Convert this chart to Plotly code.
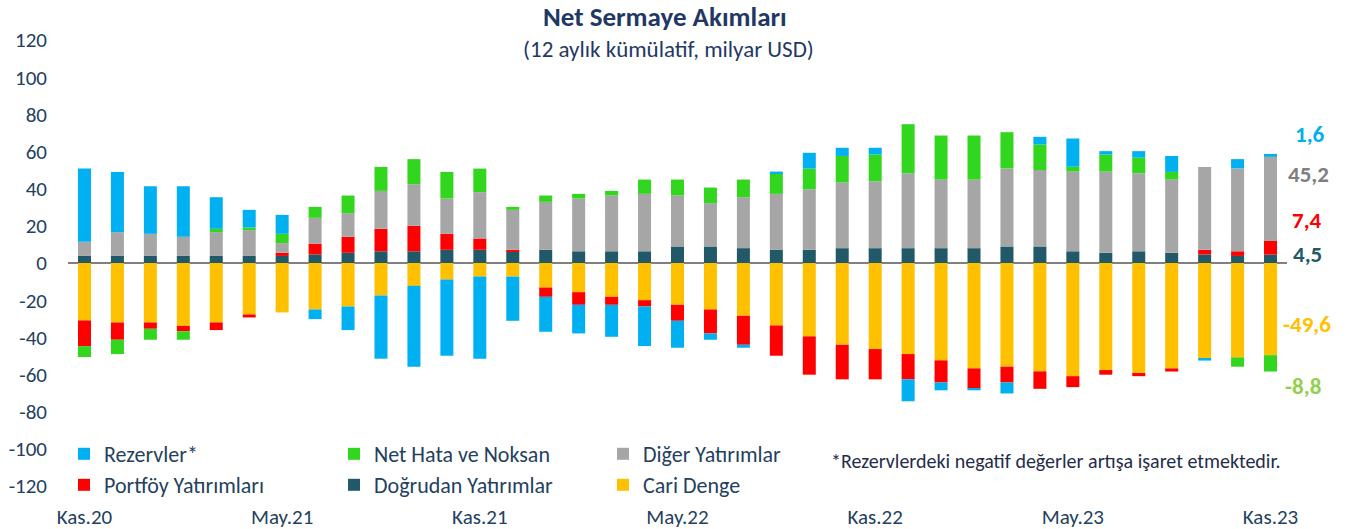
import plotly.graph_objects as go

months = ["Kas.20","Ara.20","Oca.21","Şub.21","Mar.21","Nis.21","May.21","Haz.21","Tem.21","Ağu.21","Eyl.21","Eki.21",
          "Kas.21","Ara.21","Oca.22","Şub.22","Mar.22","Nis.22","May.22","Haz.22","Tem.22","Ağu.22","Eyl.22","Eki.22",
          "Kas.22","Ara.22","Oca.23","Şub.23","Mar.23","Nis.23","May.23","Haz.23","Tem.23","Ağu.23","Eyl.23","Eki.23","Kas.23"]

dogrudan = [3.8,3.8,3.8,3.8,3.8,3.8,3.8,4.6,5.5,6.3,6.3,7.1,7.1,6.3,7.1,6.3,6.3,6.3,8.9,8.9,8.0,7.1,7.1,8.0,
            8.0,8.0,8.0,8.0,8.9,8.9,6.3,5.5,6.3,5.5,4.6,3.8,4.5]
portfoy = [-13.8,-9.3,-3.4,-3.0,-4.1,-1.6,1.7,5.8,8.6,12.1,13.7,8.6,6.1,0.8,-5.0,-6.8,-4.3,-3.4,-8.6,-12.9,-15.6,-16.3,-20.6,-18.6,
           -16.3,-13.6,-11.9,-11.0,-8.5,-9.4,-5.9,-2.5,-1.7,-1.7,2.5,2.5,7.4]
diger = [7.6,12.8,11.9,10.3,12.8,13.9,5.2,13.9,12.7,20.4,22.4,19.0,24.9,21.5,25.8,28.4,30.0,30.9,27.4,23.3,27.4,30.1,32.6,35.3,
         36.0,40.3,36.9,36.9,42.0,41.1,42.9,43.7,42.0,39.4,44.6,44.6,45.2]
net_hata = [-5.9,-7.7,-5.9,-4.5,1.8,1.4,5.0,5.9,9.5,12.9,13.5,14.3,12.7,1.6,3.4,2.5,2.5,7.7,8.6,8.4,9.5,11.1,11.1,14.3,
            14.4,26.4,23.7,23.7,19.5,13.8,2.6,9.2,8.4,4.1,0.0,-5.0,-8.8]
rezerv = [39.4,32.4,25.6,27.2,17.0,9.5,10.2,-5.2,-12.7,-34.0,-43.5,-41.0,-44.2,-23.8,-18.8,-15.4,-17.2,-21.3,-14.5,-3.4,-1.6,0.9,8.5,4.4,
          3.6,-11.8,-4.2,-0.8,-5.9,4.1,15.2,1.8,3.5,8.6,-1.0,5.0,1.6]
cari = [-30.9,-32.0,-32.0,-33.8,-32.0,-27.7,-26.6,-25.0,-23.4,-17.5,-12.3,-8.9,-7.3,-7.3,-13.2,-15.7,-18.2,-20.0,-22.5,-25.0,-28.4,-33.6,-39.5,-44.0,
        -46.3,-49.0,-52.4,-56.7,-55.8,-58.3,-60.9,-57.6,-59.2,-56.7,-51.5,-50.8,-49.6]

tick_labels = months[::6]
y_ticks = list(range(-120, 121, 20))
y_tick_text = [str(v) for v in y_ticks]

last_labels = ["1,6", "45,2", "7,4", "4,5", "-49,6", "-8,8"]

FONT = "Carlito, Lato, sans-serif"
TXT = "#243F60"
W, H = 1351, 529
L, R, T, B = 68, 64, 40, 43
PW, PH = W - L - R, H - T - B

def px_x(px):
    return (px - L) / PW

def px_y(py):
    return (H - B - py) / PH

series = [
    ("Cari Denge", cari, "#FFC000", "legend6"),
    ("Doğrudan Yatırımlar", dogrudan, "#215968", "legend5"),
    ("Portföy Yatırımları", portfoy, "#FF0000", "legend4"),
    ("Diğer Yatırımlar", diger, "#A6A6A6", "legend3"),
    ("Net Hata ve Noksan", net_hata, "#33D61E", "legend2"),
    ("Rezervler*", rezerv, "#00B0F0", "legend"),
]

fig = go.Figure()
for name, vals, color, lg in series:
    fig.add_trace(go.Bar(x=months, y=vals, name=name, marker=dict(color=color, line=dict(width=0)),
                         legend=lg, showlegend=True))

leg_pos = {
    "legend": (86, 454), "legend2": (356, 454), "legend3": (625, 454),
    "legend4": (86, 485), "legend5": (356, 485), "legend6": (625, 485),
}
leg_layout = {}
for k, (sx, sy) in leg_pos.items():
    leg_layout[k] = dict(x=px_x(sx - 22), y=px_y(sy), xanchor="left", yanchor="middle",
                         bgcolor="rgba(0,0,0,0)", font=dict(family=FONT, size=22, color=TXT),
                         itemwidth=30, borderwidth=0)

annotations = [
    dict(text="<b>Net Sermaye Akımları</b>", x=px_x(665), y=px_y(16), xref="paper", yref="paper",
         showarrow=False, font=dict(family=FONT, size=27, color="#1F3864"), xanchor="center", yanchor="middle"),
    dict(text="(12 aylık kümülatif, milyar USD)", x=px_x(668), y=px_y(49), xref="paper", yref="paper",
         showarrow=False, font=dict(family=FONT, size=23, color="#1F3864"), xanchor="center", yanchor="middle"),
    dict(text="*Rezervlerdeki negatif değerler artışa işaret etmektedir.", x=px_x(829), y=px_y(461),
         xref="paper", yref="paper", showarrow=False, xanchor="left", yanchor="middle",
         font=dict(family=FONT, size=20, color="#1F2D4A")),
]

label_pos = [(1310, 134, "#00B0F0"), (1308, 174, "#7F7F7F"), (1307, 220, "#FF0000"),
             (1307, 254, "#215968"), (1307, 324, "#FFC000"), (1303, 386, "#92D050")]
for txt, (lx, ly, c) in zip(last_labels, label_pos):
    annotations.append(dict(text=f"<b>{txt}</b>", x=px_x(lx), y=px_y(ly), xref="paper", yref="paper",
                            showarrow=False, xanchor="center", yanchor="middle",
                            font=dict(family=FONT, size=23, color=c)))

fig.update_layout(
    width=W, height=H, barmode="relative", bargap=0.605,
    margin=dict(l=L, r=R, t=T, b=B, autoexpand=False),
    plot_bgcolor="white", paper_bgcolor="white",
    font=dict(family=FONT, color=TXT),
    xaxis=dict(type="category", categoryorder="array", categoryarray=months,
               tickmode="array", tickvals=tick_labels, ticktext=tick_labels,
               showgrid=False, showline=False, ticks="", ticklabelstandoff=16,
               tickfont=dict(family=FONT, size=21, color=TXT), automargin=False),
    yaxis=dict(range=[-120, 120], tickmode="array", tickvals=y_ticks, ticktext=y_tick_text,
               showgrid=False, showline=False,
               zeroline=True, zerolinecolor="#808080", zerolinewidth=2, ticks="",
               ticklabelstandoff=20, tickfont=dict(family=FONT, size=21, color=TXT), automargin=False),
    annotations=annotations,
    **leg_layout,
)

fig.write_html("out.html", config={"displayModeBar": False},
               post_script="document.body.style.margin='0';document.body.style.padding='0';")
